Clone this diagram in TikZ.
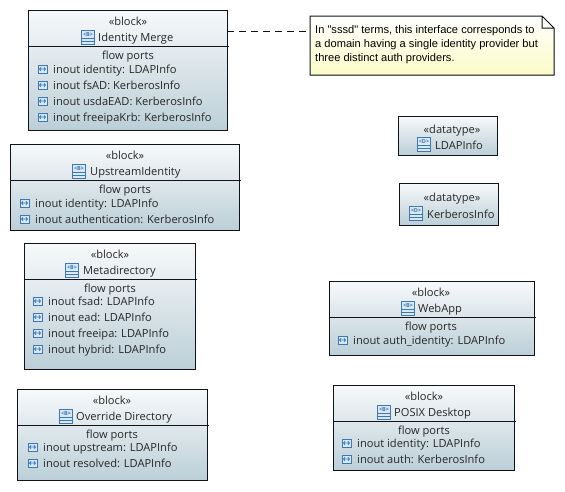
\documentclass[tikz,border=0pt]{standalone}
\usepackage{fontspec}
\setmainfont{Open Sans}
\newfontfamily\notefont{Liberation Sans}
\usetikzlibrary{calc}
\definecolor{lineK}{HTML}{101418}
\definecolor{iconB}{HTML}{3C78B4}
\definecolor{iconF}{HTML}{D8E8F4}
\definecolor{gradT}{HTML}{F7F9FA}
\definecolor{gradB}{HTML}{BCCFD8}
\definecolor{noteB}{HTML}{FBFBC8}
\tikzset{
  x=1pt,y=-1pt,
  boxn/.style={draw=lineK,line width=1pt,top color=gradT,bottom color=gradB,inner sep=0pt,outer sep=0pt,anchor=north west},
  txt/.style={font=\fontsize{11.1}{13}\selectfont,text=black!85,inner sep=0pt,anchor=base},
  lft/.style={txt,anchor=base west},
  notetxt/.style={anchor=base west,inner sep=0pt,font=\notefont\fontsize{11.1}{14}\selectfont},
  small/.style={line width=.8pt,draw=iconB},
  pics/classicon/.style={code={
    \draw[small,fill=iconF] (-6.5,-7) rectangle (6.5,7);
    \draw[small] (-6.5,1.5) -- (6.5,1.5) (-6.5,4.2) -- (6.5,4.2);
    \node[inner sep=0pt,text=iconB,font=\fontsize{5.5}{5.5}\selectfont\bfseries] at (0,-2.8) {<#1>};
  }},
  pics/porticon/.style={code={
    \draw[small,fill=iconF] (-4.5,-4) rectangle (4.5,4);
    \draw[small,line width=.7pt] (-3,0) -- (3,0) (-1.5,-1.8) -- (-3,0) -- (-1.5,1.8) (1.5,-1.8) -- (3,0) -- (1.5,1.8);
  }}
}
% args: name, x0, y0, x1, y1, cx, icon x
\newcommand{\blockbox}[7]{%
  \node[boxn,minimum width=#4pt-#2pt,minimum height=#5pt-#3pt] (#1) at (#2,#3) {};
  \draw[line width=1pt,draw=lineK] (#2+1,#3+36) -- (#4+2,#3+36);
  \node[txt] (#1s) at (#6,#3+15) {«block»};
  \pic at (#7,#3+27) {classicon=B};
}
\newcommand{\portrow}[4]{%
  \pic at (#2+9.5,#3-5) {porticon};
  \node[lft] (#1) at (#2+20,#3-1) {#4};
}
\begin{document}
\begin{tikzpicture}
\useasboundingbox (0,0) rectangle (565,491);
% Identity Merge
\blockbox{merge}{28}{10}{227}{130}{128}{88}
\node[lft] (mergen) at (98,41) {Identity Merge};
\node[txt] (mergep) at (128,59) {flow ports};
\portrow{mergea}{33}{74}{inout identity: LDAPInfo}
\portrow{mergeb}{33}{90}{inout fsAD: KerberosInfo}
\portrow{mergec}{33}{106}{inout usdaEAD: KerberosInfo}
\portrow{merged}{33}{122}{inout freeipaKrb: KerberosInfo}
% UpstreamIdentity
\blockbox{up}{10}{144}{239}{230}{125}{79}
\node[lft] (upn) at (90,175) {UpstreamIdentity};
\node[txt] (upp) at (125,193) {flow ports};
\portrow{upa}{15}{208}{inout identity: LDAPInfo}
\portrow{upb}{15}{224}{inout authentication: KerberosInfo}
% Metadirectory
\blockbox{meta}{24}{243}{195}{369}{110}{72}
\node[lft] (metan) at (83,274) {Metadirectory};
\node[txt] (metap) at (110,292) {flow ports};
\portrow{metaa}{28}{306}{inout fsad: LDAPInfo}
\portrow{metab}{28}{322}{inout ead: LDAPInfo}
\portrow{metac}{28}{338}{inout freeipa: LDAPInfo}
\portrow{metad}{28}{354}{inout hybrid: LDAPInfo}
% Override Directory
\blockbox{over}{17}{389}{207}{480}{112}{66}
\node[lft] (overn) at (76,420) {Override Directory};
\node[txt] (overp) at (112,438) {flow ports};
\portrow{overa}{23}{452}{inout upstream: LDAPInfo}
\portrow{overb}{23}{468}{inout resolved: LDAPInfo}
% WebApp
\blockbox{web}{329}{281}{534}{355}{431}{408}
\node[lft] (webn) at (418,312) {WebApp};
\node[txt] (webp) at (431,330) {flow ports};
\portrow{weba}{333}{345}{inout auth\_identity: LDAPInfo}
% POSIX Desktop
\blockbox{posix}{333}{385}{514}{470}{424}{384}
\node[lft] (posixn) at (394,416) {POSIX Desktop};
\node[txt] (posixp) at (424,434) {flow ports};
\portrow{posixa}{337}{448}{inout identity: LDAPInfo}
\portrow{posixb}{337}{464}{inout auth: KerberosInfo}
% Datatypes
\node[boxn,minimum width=99pt,minimum height=39pt] (ldap) at (398,116) {};
\node[txt] (ldaps) at (452,133) {«datatype»};
\pic at (424,144) {classicon=D};
\node[lft] (ldapn) at (435,149) {LDAPInfo};
\node[boxn,minimum width=99pt,minimum height=42pt] (krb) at (399,183) {};
\node[txt] (krbs) at (452,201) {«datatype»};
\pic at (416,213) {classicon=D};
\node[lft] (krbn) at (427,218) {KerberosInfo};
% Note
\fill[top color=white,bottom color=noteB] (310,16) -- (542,16) -- (554,28) -- (554,75) -- (310,75) -- cycle;
\draw[draw=lineK,line width=1pt] (310,16) -- (542,16) -- (554,28) -- (554,75) -- (310,75) -- cycle (542,16) -- (542,28) -- (554,28);
\node[inner sep=0pt,outer sep=0pt,minimum width=244pt,minimum height=59pt,anchor=north west] (note) at (310,16) {};
\node[notetxt] (n1) at (315,33) {In "sssd" terms, this interface corresponds to};
\node[notetxt] (n2) at (315,47) {a domain having a single identity provider but};
\node[notetxt] (n3) at (315,61) {three distinct auth providers.};
% Connector
\draw[line width=1pt,draw=lineK,dash pattern=on 7pt off 5pt] ([yshift=-21pt]merge.north east) -- ([yshift=-15pt]note.north west);
\end{tikzpicture}
\end{document}
